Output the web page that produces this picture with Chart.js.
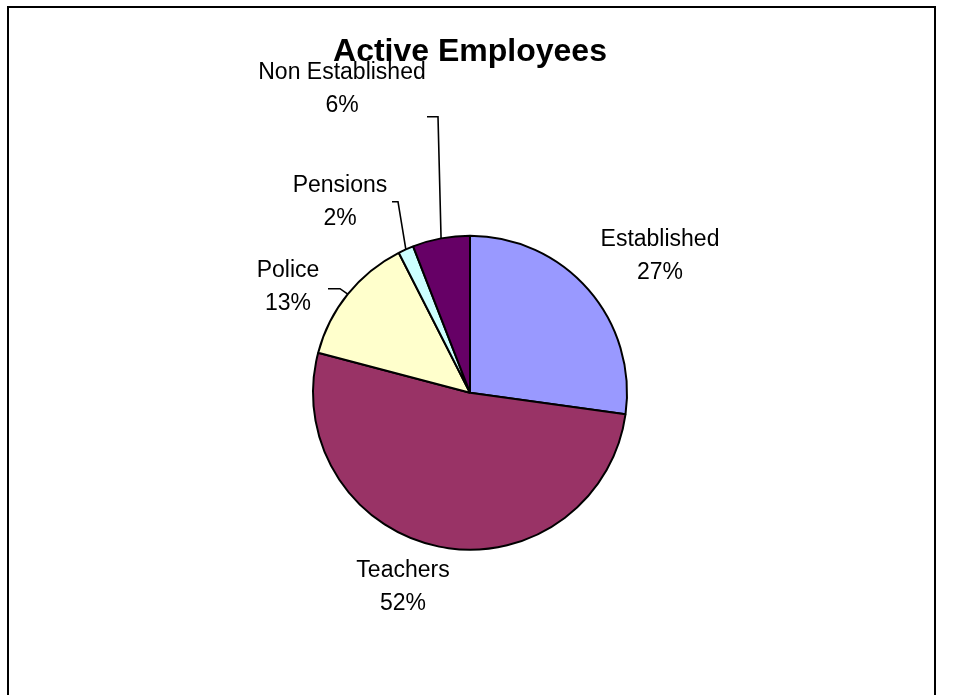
<!DOCTYPE html>
<html>
<head>
<meta charset="utf-8">
<title>Active Employees</title>
<script src="https://cdn.jsdelivr.net/npm/chart.js@4.4.0/dist/chart.umd.min.js"></script>
<style>
  html, body { margin: 0; padding: 0; background: #fff; overflow: hidden; }
  #frame {
    position: absolute;
    left: 7px;
    top: 6px;
    width: 925px;
    height: 720px;
    border: 2px solid #000;
    background: #fff;
  }
  canvas { display: block; }
</style>
</head>
<body>
<div id="frame">
  <canvas id="pie" width="925" height="720"></canvas>
</div>
<script>
// Slices, clockwise from 12 o'clock (percent of active employees)
const categories = ['Established', 'Teachers', 'Police', 'Pensions', 'Non Established'];
const shares = [27.2, 51.9, 13.4, 1.6, 5.9];
const sliceColors = ['#9999FF', '#993366', '#FFFFCC', '#CCFFFF', '#660066'];

// Label placement relative to the pie centre (block centre of the two lines)
const labelOffsets = [
  { dx: 190, dy: -137 },
  { dx: -67, dy: 194 },
  { dx: -182, dy: -106 },
  { dx: -130, dy: -191 },
  { dx: -128, dy: -304 }
];
// Leader lines: elbow point and tail end, relative to the pie centre (null = none)
const leaders = [
  null,
  null,
  { elbow: [-130, -104], tail: [-142, -104] },
  { elbow: [-72, -191], tail: [-78, -191] },
  { elbow: [-32, -276], tail: [-43, -276] }
];

const LABEL_FONT = '23px "Liberation Sans", Arial, sans-serif';
const LINE_GAP = 33;

// Draws the category name + percent with optional leader line
const pieLabels = {
  id: 'pieLabels',
  afterDatasetsDraw(chart) {
    const ctx = chart.ctx;
    const meta = chart.getDatasetMeta(0);
    const total = shares.reduce((a, b) => a + b, 0);
    ctx.save();
    ctx.font = LABEL_FONT;
    ctx.fillStyle = '#000';
    ctx.textAlign = 'center';
    ctx.textBaseline = 'middle';
    meta.data.forEach((arc, i) => {
      const p = arc.getProps(['x', 'y', 'startAngle', 'endAngle', 'outerRadius'], true);
      const cx = p.x, cy = p.y;
      const off = labelOffsets[i];
      const pct = Math.round(shares[i] / total * 100) + '%';
      ctx.fillText(categories[i], cx + off.dx, cy + off.dy - LINE_GAP / 2);
      ctx.fillText(pct, cx + off.dx, cy + off.dy + LINE_GAP / 2);

      const ld = leaders[i];
      if (ld) {
        const mid = (p.startAngle + p.endAngle) / 2;
        const ax = cx + Math.cos(mid) * p.outerRadius;
        const ay = cy + Math.sin(mid) * p.outerRadius;
        ctx.beginPath();
        ctx.strokeStyle = '#000';
        ctx.lineWidth = 1.6;
        ctx.moveTo(ax, ay);
        ctx.lineTo(cx + ld.elbow[0], cy + ld.elbow[1]);
        ctx.lineTo(cx + ld.tail[0], cy + ld.tail[1]);
        ctx.stroke();
      }
    });
    ctx.restore();
  }
};

const chart = new Chart(document.getElementById('pie').getContext('2d'), {
  type: 'pie',
  data: {
    labels: categories,
    datasets: [{
      data: shares,
      backgroundColor: sliceColors,
      borderColor: '#000',
      borderWidth: 2
    }]
  },
  options: {
    responsive: false,
    animation: false,
    radius: 157,
    layout: {
      padding: { top: 0, left: 0, right: 3, bottom: 14 }
    },
    plugins: {
      legend: { display: false },
      tooltip: { enabled: false },
      title: {
        display: true,
        text: 'Active Employees',
        color: '#000',
        font: { family: '"Liberation Sans", Arial, sans-serif', size: 32, weight: 'bold' },
        padding: { top: 25, bottom: 0 }
      }
    }
  },
  plugins: [pieLabels]
});
</script>
</body>
</html>
